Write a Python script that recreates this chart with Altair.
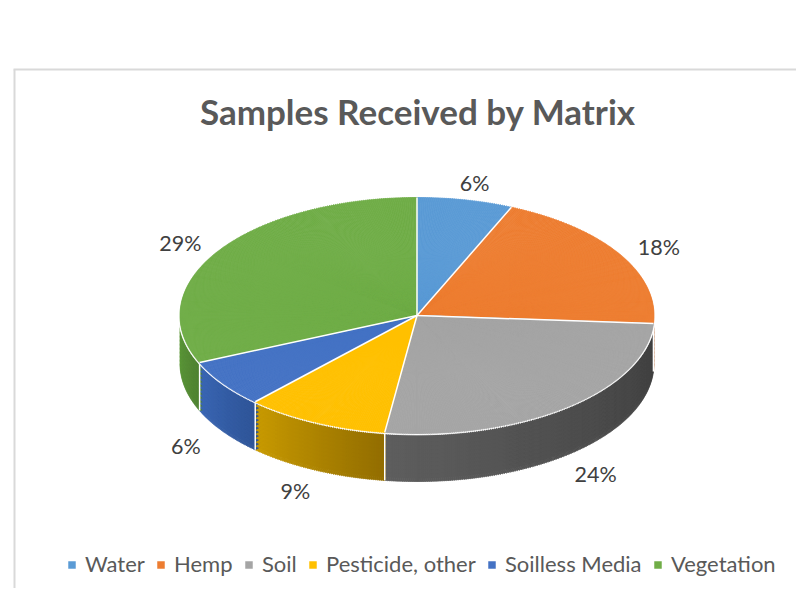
import altair as alt
import pandas as pd

# ---------------- data ----------------
categories = ["Water", "Hemp", "Soil", "Pesticide, other", "Soilless Media", "Vegetation"]
values = [6, 18, 24, 9, 6, 29]
title_text = "Samples Received by Matrix"

# ---------------- styles ----------------
top_colors = ["#5B9BD5", "#ED7D31", "#A5A5A5", "#FFC000", "#4472C4", "#70AD47"]
wall_light = ["#4A80B2", "#C86A2A", "#5E5E5E", "#C89A00", "#3A66B4", "#5E9A3A"]
wall_dark = ["#3A6690", "#A0521F", "#404040", "#926D00", "#2F5597", "#4F8232"]


def hex_rgb(h):
    return [int(h[i:i + 2], 16) for i in (1, 3, 5)]


df = pd.DataFrame({"category": categories, "value": values, "idx": list(range(len(categories)))})
for pre, lst in (("l", wall_light), ("d", wall_dark)):
    comps = [hex_rgb(h) for h in lst]
    df[pre + "r"] = [c[0] for c in comps]
    df[pre + "g"] = [c[1] for c in comps]
    df[pre + "b"] = [c[2] for c in comps]

# geometry (pixels, view coordinates)
CX, CY = 409.0, 307.5
A, B = 237.0, 118.0
DEPTH = 48
STEP = 0.5
LRX, LRY = 283.0, 138.0
LABEL_DY = 5.0
FONT = "Lato"

XS = alt.Scale(domain=[-1, 1], range=[CX - A, CX + A], nice=False, zero=False)
YS = alt.Scale(domain=[-1, 1], range=[CY + B, CY - B], nice=False, zero=False)


def base():
    return (
        alt.Chart(df)
        .transform_joinaggregate(total="sum(value)")
        .transform_window(cum="sum(value)", sort=[alt.SortField("idx")], frame=[None, 0])
        .transform_calculate(
            a0="(datum.cum - datum.value) / datum.total * 360",
            a1="datum.cum / datum.total * 360",
        )
    )


def pieces(lo=0, hi=360):
    return (
        base()
        .transform_calculate(b0=f"max(datum.a0, {lo})", b1=f"min(datum.a1, {hi})")
        .transform_filter("datum.b1 > datum.b0")
        .transform_calculate(k=f"sequence(floor(datum.b0 / {STEP}), ceil(datum.b1 / {STEP}))")
        .transform_flatten(["k"])
        .transform_calculate(
            t0=f"max(datum.b0, datum.k * {STEP}) * PI / 180",
            t1=f"min(datum.b1, (datum.k + 1) * {STEP}) * PI / 180",
        )
        .transform_filter("datum.t1 > datum.t0")
        .transform_calculate(
            q0=f"atan2({A} * sin(datum.t0), {B} * cos(datum.t0))",
            q1=f"atan2({A} * sin(datum.t1), {B} * cos(datum.t1))",
        )
        .transform_calculate(
            p0="datum.q0 + 2 * PI * round((datum.t0 - datum.q0) / (2 * PI))",
            p1="datum.q1 + 2 * PI * round((datum.t1 - datum.q1) / (2 * PI))",
            tm="(datum.t0 + datum.t1) / 2",
        )
        .transform_calculate(r=f"sqrt(pow({A} * sin(datum.tm), 2) + pow({B} * cos(datum.tm), 2))")
    )


def arc_enc(rfield="r", yoff=0.0):
    return dict(
        theta=alt.Theta("p0:Q", scale=None),
        theta2=alt.Theta2("p1:Q"),
        radius=alt.Radius(f"{rfield}:Q", scale=None),
        x=alt.value(CX),
        y=alt.value(CY + yoff),
    )


layers = []

# chart-area frame
dummy = pd.DataFrame({"d": [0]})
layers.append(
    alt.Chart(dummy).mark_rule(color="#D9D9D9", strokeWidth=2).encode(
        x=alt.value(6.5), y=alt.value(61.5), y2=alt.value(600)
    )
)
layers.append(
    alt.Chart(dummy).mark_rule(color="#D9D9D9", strokeWidth=2).encode(
        x=alt.value(5.5), x2=alt.value(800), y=alt.value(61.5)
    )
)

# title
layers.append(
    alt.Chart(pd.DataFrame({"t": [title_text]}))
    .mark_text(font=FONT, fontSize=35, fontWeight="bold", color="#595959", align="center", baseline="alphabetic")
    .encode(text="t:N", x=alt.value(409.5), y=alt.value(117))
)

# side wall (front half), stacked from deepest upwards
for off in range(DEPTH, -1, -4):
    wall = (
        pieces(90, 270)
        .transform_calculate(fr="(datum.tm * 180 / PI - datum.b0) / (datum.b1 - datum.b0)")
        .transform_calculate(
            wc="'rgb(' + round(datum.dr + (datum.lr - datum.dr) * datum.fr) + ','"
            " + round(datum.dg + (datum.lg - datum.dg) * datum.fr) + ','"
            " + round(datum.db + (datum.lb - datum.db) * datum.fr) + ')'"
        )
        .mark_arc(strokeWidth=0.8)
        .encode(fill=alt.Fill("wc:N", scale=None), stroke=alt.Stroke("wc:N", scale=None), **arc_enc(yoff=off))
    )
    layers.append(wall)

# white vertical seams on the wall
layers.append(
    base()
    .transform_filter("datum.a0 > 90 && datum.a0 < 270")
    .transform_calculate(
        ux="sin(datum.a0 * PI / 180)",
        uy="cos(datum.a0 * PI / 180)",
    )
    .transform_calculate(uy2=f"datum.uy - {DEPTH / B}")
    .mark_rule(color="white", strokeWidth=1.5)
    .encode(x=alt.X("ux:Q", scale=XS, axis=None), y=alt.Y("uy:Q", scale=YS, axis=None), y2="uy2:Q")
)

# white rim under the top face
layers.append(
    pieces()
    .transform_calculate(rw="datum.r + 1.4")
    .mark_arc(fill="white", stroke="white", strokeWidth=0.8)
    .encode(**arc_enc(rfield="rw"))
)

# top face (seam-covering stroke uses its own colour string, no legend)
color_scale = alt.Scale(domain=categories, range=top_colors)
col_expr = "{" + ", ".join(f"'{c}': '{h}'" for c, h in zip(categories, top_colors)) + "}"
layers.append(
    pieces()
    .transform_calculate(sc=f"{col_expr}[datum.category]")
    .mark_arc(strokeWidth=0.8)
    .encode(
        color=alt.Color(
            "category:N",
            scale=color_scale,
            sort=categories,
            legend=alt.Legend(
                orient="none",
                legendX=53,
                legendY=546,
                direction="horizontal",
                title=None,
                symbolType="square",
                symbolSize=56,
                symbolStrokeWidth=0,
                labelFont=FONT,
                labelFontSize=22,
                labelColor="#595959",
                labelOffset=2,
                columnPadding=5,
            ),
        ),
        stroke=alt.Stroke("sc:N", scale=None),
        **arc_enc(),
    )
)

# white radial seams
layers.append(
    base()
    .transform_calculate(
        ux="sin(datum.a0 * PI / 180)",
        uy="cos(datum.a0 * PI / 180)",
        z="0",
    )
    .mark_rule(color="white", strokeWidth=1.5)
    .encode(
        x=alt.X("z:Q", scale=XS, axis=None),
        y=alt.Y("z:Q", scale=YS, axis=None),
        x2="ux:Q",
        y2="uy:Q",
    )
)

# data labels
layers.append(
    base()
    .transform_calculate(tm="(datum.a0 + datum.a1) / 2 * PI / 180")
    .transform_calculate(
        lx=f"{LRX / A} * sin(datum.tm)",
        ly=f"{LRY / B} * cos(datum.tm) - (cos(datum.tm) < 0 ? {DEPTH / B} : 0) - {LABEL_DY / B}",
        lab="datum.value + '%'",
    )
    .mark_text(font=FONT, fontSize=21.5, color="#404040", align="center", baseline="middle")
    .encode(x=alt.X("lx:Q", scale=XS, axis=None), y=alt.Y("ly:Q", scale=YS, axis=None), text="lab:N")
)

chart = (
    alt.layer(*layers)
    .properties(width=788, height=580, autosize=alt.AutoSizeParams(type="none"), padding=0)
    .configure_view(stroke=None)
)

chart.save("out.html", embed_options={"renderer": "svg", "actions": False})
